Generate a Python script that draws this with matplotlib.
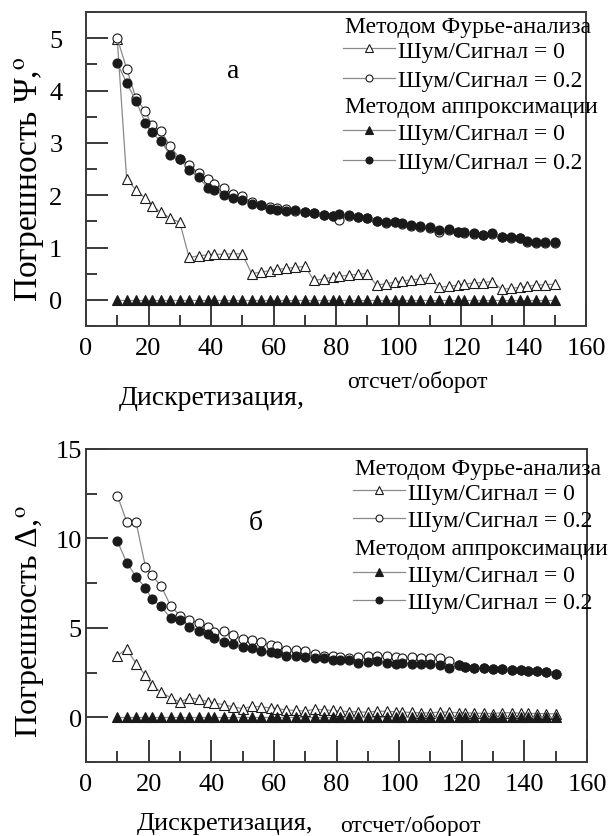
import matplotlib
matplotlib.use("Agg")
import matplotlib.pyplot as plt
from matplotlib.legend import Legend
from matplotlib.lines import Line2D
from matplotlib.ticker import MultipleLocator

plt.rcParams["font.family"] = ["Liberation Serif", "DejaVu Serif"]
plt.rcParams["mathtext.fontset"] = "stix"

# discretisation, samples per revolution
x = [10, 13, 16, 19, 21, 24, 27, 30, 33, 36, 39, 41, 44, 47, 50, 53, 56, 59, 61, 64,
     67, 70, 73, 76, 79, 81, 84, 87, 90, 93, 96, 99, 101, 104, 107, 110, 113, 116, 119, 121,
     124, 127, 130, 133, 136, 139, 141, 144, 147, 150]

# panel a: error of Psi, degrees
psi_fourier_0 = [4.98, 2.31, 2.10, 1.94, 1.80, 1.67, 1.56, 1.48,
                 0.81, 0.84, 0.86, 0.87, 0.87, 0.88, 0.88,
                 0.50, 0.53, 0.56, 0.58, 0.60, 0.62, 0.64,
                 0.37, 0.40, 0.43, 0.45, 0.47, 0.49, 0.50,
                 0.28, 0.31, 0.34, 0.36, 0.38, 0.40, 0.42,
                 0.24, 0.26, 0.28, 0.30, 0.32, 0.33, 0.35,
                 0.20, 0.22, 0.24, 0.26, 0.28, 0.29, 0.30]
psi_fourier_02 = [5.00, 4.42, 3.85, 3.60, 3.35, 3.22, 2.93, 2.70, 2.58, 2.42,
                  2.30, 2.22, 2.14, 2.03, 1.98, 1.86, 1.82, 1.78, 1.76, 1.73,
                  1.70, 1.68, 1.65, 1.62, 1.60, 1.53, 1.60, 1.58, 1.56, 1.50,
                  1.46, 1.48, 1.45, 1.42, 1.40, 1.38, 1.30, 1.33, 1.29, 1.28,
                  1.26, 1.23, 1.25, 1.20, 1.19, 1.18, 1.10, 1.09, 1.09, 1.09]
psi_approx_0 = [0.0] * 50
psi_approx_02 = [4.52, 4.15, 3.80, 3.38, 3.20, 3.03, 2.76, 2.70, 2.48, 2.34,
                 2.14, 2.10, 2.00, 1.95, 1.90, 1.84, 1.82, 1.74, 1.71, 1.69,
                 1.71, 1.68, 1.66, 1.62, 1.61, 1.64, 1.62, 1.59, 1.57, 1.51,
                 1.48, 1.49, 1.46, 1.43, 1.41, 1.40, 1.33, 1.35, 1.30, 1.30,
                 1.27, 1.24, 1.27, 1.21, 1.21, 1.19, 1.12, 1.10, 1.10, 1.10]

# panel b: error of Delta, degrees
dlt_fourier_0 = [3.45, 3.82, 3.00, 2.35, 1.78, 1.40, 1.10, 0.85,
                 1.10, 1.00, 0.88, 0.80, 0.70, 0.58, 0.48,
                 0.62, 0.58, 0.52, 0.48, 0.42, 0.38, 0.35,
                 0.45, 0.42, 0.38, 0.35, 0.32, 0.30, 0.28,
                 0.35, 0.33, 0.31, 0.29, 0.27, 0.25, 0.24,
                 0.30, 0.28, 0.26, 0.25, 0.23, 0.22, 0.21,
                 0.26, 0.25, 0.23, 0.22, 0.21, 0.20, 0.19]
dlt_fourier_02 = [12.40, 10.94, 10.90, 8.41, 7.94, 7.34, 6.24, 5.69, 5.45, 5.28,
                  5.04, 4.76, 4.82, 4.61, 4.38, 4.33, 4.20, 4.04, 3.98, 3.78,
                  3.78, 3.73, 3.55, 3.45, 3.40, 3.35, 3.33, 3.35, 3.42, 3.45,
                  3.45, 3.38, 3.32, 3.35, 3.30, 3.33, 3.30, 3.15, 2.90, 2.82,
                  2.78, 2.75, 2.72, 2.68, 2.65, 2.62, 2.60, 2.57, 2.52, 2.42]
dlt_approx_0 = [0.0] * 50
dlt_approx_02 = [9.85, 8.65, 7.85, 7.23, 6.63, 6.20, 5.54, 5.45, 5.04, 4.85,
                 4.66, 4.42, 4.23, 4.10, 3.91, 3.85, 3.72, 3.63, 3.60, 3.44,
                 3.44, 3.38, 3.30, 3.33, 3.22, 3.20, 3.22, 3.05, 3.10, 3.12,
                 3.05, 3.00, 3.02, 3.00, 2.98, 3.00, 2.95, 2.78, 2.90, 2.82,
                 2.78, 2.75, 2.72, 2.68, 2.65, 2.62, 2.60, 2.57, 2.52, 2.42]

header_fourier = "Методом Фурье-анализа"
header_approx = "Методом аппроксимации"
lab_0 = "Шум/Сигнал = 0"
lab_02 = "Шум/Сигнал = 0.2"

W, H = 609, 837
GRAY = "#8a8a8a"
EDGE = "#1a1a1a"
SPINE = "#3a3a3a"
STYLES = {
    "f0": dict(marker="^", mfc="white"),
    "f02": dict(marker="o", mfc="white"),
    "a0": dict(marker="^", mfc=EDGE),
    "a02": dict(marker="o", mfc=EDGE),
}


def fx(px):
    return px / W


def fy(py):
    return 1 - py / H


def series(ax, y, key):
    st = STYLES[key]
    ax.plot(x, y, color=GRAY, lw=0.9, marker=st["marker"], ms=7.5 if st["marker"] == "^" else 6.5,
            mfc=st["mfc"], mec=EDGE, mew=0.8)


def handle(key):
    st = STYLES[key]
    return Line2D([], [], color=GRAY, lw=0.9, marker=st["marker"], ms=5.5 if st["marker"] == "^" else 5,
                  mfc=st["mfc"], mec=EDGE, mew=0.8)


def style_axes(ax, ylim, ymaj, ymin, ypad):
    ax.set_xlim(0, 160)
    ax.set_ylim(*ylim)
    ax.xaxis.set_major_locator(MultipleLocator(20))
    ax.xaxis.set_minor_locator(MultipleLocator(10))
    ax.yaxis.set_major_locator(MultipleLocator(ymaj))
    ax.yaxis.set_minor_locator(MultipleLocator(ymin))
    ax.tick_params(which="both", direction="in", top=False, right=False,
                   color=SPINE, width=1.4, labelsize=19)
    ax.tick_params(which="major", length=15.5)
    ax.tick_params(which="minor", length=8)
    ax.tick_params(axis="x", which="major", pad=8)
    ax.tick_params(axis="y", which="major", pad=ypad)
    for s in ax.spines.values():
        s.set_color(SPINE)
        s.set_linewidth(1.4)


def legend_block(ax, left, rows, spacing):
    # rows: y pixel centres of the six legend lines
    fig = ax.figure
    fig.text(fx(left + 2), fy(rows[0]), header_fourier, fontsize=17, va="center", ha="left")
    fig.text(fx(left + 2), fy(rows[3]), header_approx, fontsize=17, va="center", ha="left")
    for keys, r in ((["f0", "f02"], rows[1]), (["a0", "a02"], rows[4])):
        leg = Legend(ax, [handle(k) for k in keys], [lab_0, lab_02], loc="upper left",
                     bbox_to_anchor=(fx(left), fy(r - 12)), bbox_transform=fig.transFigure,
                     frameon=False, fontsize=17, handlelength=2.2, handletextpad=0.15,
                     borderpad=0, borderaxespad=0, labelspacing=spacing)
        ax.add_artist(leg)


fig = plt.figure(figsize=(W / 100, H / 100), dpi=100)

ax_a = fig.add_axes([fx(86), fy(327), fx(586) - fx(86), fy(13) - fy(327)])
series(ax_a, psi_fourier_0, "f0")
series(ax_a, psi_fourier_02, "f02")
series(ax_a, psi_approx_0, "a0")
series(ax_a, psi_approx_02, "a02")
style_axes(ax_a, (-0.5, 5.5), 1, 0.5, 17)
ax_a.set_ylabel("Погрешность Ψ,$^{\\rm o}$", fontsize=24)
ax_a.yaxis.set_label_coords(-0.077, 0.47)
ax_a.text(0.294, 0.815, "а", transform=ax_a.transAxes, fontsize=20, ha="center", va="center")
legend_block(ax_a, 343, [28, 53, 82, 108, 135, 162], 0.33)
fig.text(fx(212), fy(399), "Дискретизация,", fontsize=20, ha="center", va="center")
fig.text(fx(417), fy(382), "отсчет/оборот", fontsize=17, ha="center", va="center")

ax_b = fig.add_axes([fx(86), fy(763), fx(587) - fx(86), fy(450) - fy(763)])
series(ax_b, dlt_fourier_0, "f0")
series(ax_b, dlt_fourier_02, "f02")
series(ax_b, dlt_approx_0, "a0")
series(ax_b, dlt_approx_02, "a02")
style_axes(ax_b, (-2.5, 15), 5, 2.5, 3)
ax_b.set_ylabel("Погрешность Δ,$^{\\rm o}$", fontsize=23)
ax_b.yaxis.set_label_coords(-0.077, 0.45)
ax_b.text(0.338, 0.765, "б", transform=ax_b.transAxes, fontsize=20, ha="center", va="center")
legend_block(ax_b, 353, [470, 495, 523, 550, 577, 603], 0.27)
fig.text(fx(225), fy(824), "Дискретизация,", fontsize=19, ha="center", va="center")
fig.text(fx(410), fy(826), "отсчет/оборот", fontsize=17, ha="center", va="center")

fig.savefig("out.png", dpi=100)
